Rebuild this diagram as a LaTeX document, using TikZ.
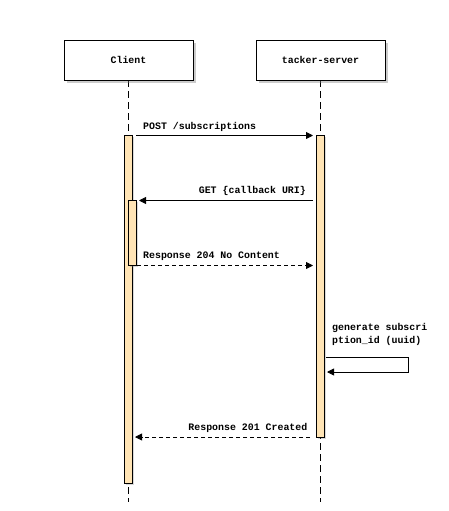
\documentclass[tikz,border=0pt]{standalone}
\usepackage{fontspec}
\setmonofont{Liberation Mono}
\usetikzlibrary{arrows.meta,shadows}
\definecolor{actfill}{HTML}{FFE4B5}
\tikzset{
  px/.style={x=1pt,y=-1pt},
  lbl/.style={font=\ttfamily\bfseries\fontsize{9.9}{11}\selectfont,inner sep=0pt},
  actor/.style={draw,fill=white,line width=0.8pt,minimum width=129pt,minimum height=40pt,inner sep=0pt,
    drop shadow={shadow xshift=3pt,shadow yshift=-3pt,opacity=0.4},font=\ttfamily\bfseries\fontsize{9.9}{11}\selectfont},
  actbar/.style={draw,fill=actfill,line width=0.8pt,drop shadow={shadow xshift=2pt,shadow yshift=-2pt,opacity=0.3}},
  lifeline/.style={line width=0.8pt,dash pattern=on 7pt off 4pt},
  msg/.style={line width=0.8pt,-{Triangle[length=7pt,width=7pt]}},
  reply/.style={msg,dash pattern=on 4pt off 3pt},
}
\begin{document}
\begin{tikzpicture}[px]
\useasboundingbox (0,0) rectangle (448,511);
% lifelines
\coordinate (cl0) at (128,80);
\coordinate (cl1) at (128,502);
\coordinate (sv0) at (320,80);
\coordinate (sv1) at (320,502);
\draw[lifeline] (cl0) -- (cl1);
\draw[lifeline] (sv0) -- (sv1);
% actors
\node[actor] (client) at (128.5,60) {Client};
\node[actor] (server) at (320.5,60) {tacker-server};
% activation bars
\draw[actbar] (124,135) rectangle (132,483);
\draw[actbar] (316,135) rectangle (324,437);
\draw[actbar] (128,200) rectangle (136,265);
% message anchors
\coordinate (m1a) at (136,135.5);
\coordinate (m1b) at (313,135.5);
\coordinate (m2a) at (313,200.5);
\coordinate (m2b) at (139,200.5);
\coordinate (m3a) at (137,265.5);
\coordinate (m3b) at (313,265.5);
\coordinate (m4a) at (326,357);
\coordinate (m4b) at (408,357);
\coordinate (m4c) at (408,372);
\coordinate (m4d) at (327,372);
\coordinate (m5a) at (310,437);
\coordinate (m5b) at (135,437);
% messages
\draw[msg] (m1a) -- (m1b);
\node[lbl,anchor=base west] (t1) at (143,129) {POST /subscriptions};
\draw[msg] (m2a) -- (m2b);
\node[lbl,anchor=base east] (t2) at (306,193) {GET \{callback URI\}};
\draw[reply] (m3a) -- (m3b);
\node[lbl,anchor=base west] (t3) at (143,258.5) {Response 204 No Content};
\draw[msg] (m4a) -- (m4b) -- (m4c) -- (m4d);
\node[lbl,anchor=base west] (t4a) at (332,330) {generate subscri};
\node[lbl,anchor=base west] (t4b) at (332,343.5) {ption\_id (uuid)};
\draw[reply] (m5a) -- (m5b);
\node[lbl,anchor=base east] (t5) at (307.5,430.5) {Response 201 Created};
\end{tikzpicture}
\end{document}
